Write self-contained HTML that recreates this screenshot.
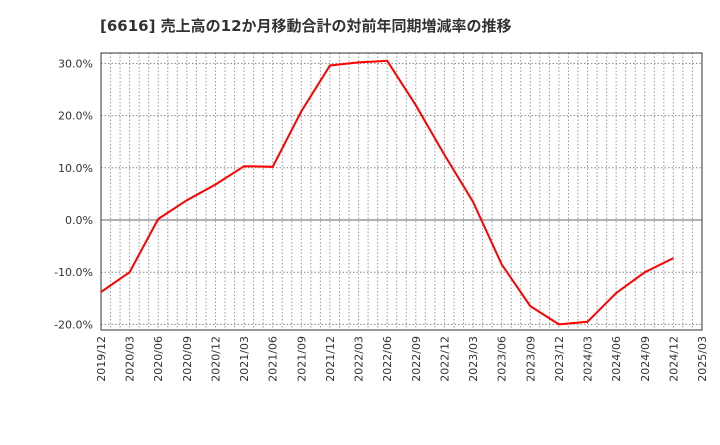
<!DOCTYPE html>
<html><head><meta charset="utf-8"><style>
body{margin:0;background:#fff;}
svg text{font-family:"DejaVu Sans","Noto Sans CJK JP",sans-serif;}
</style></head><body>
<svg id="chart" width="720" height="440" xmlns="http://www.w3.org/2000/svg">
<text x="100" y="31" font-size="15" font-weight="bold" fill="#333">[6616]  売上高の12か月移動合計の対前年同期増減率の推移</text>
<g id="grid"></g>
<g id="axes"></g>
<path id="line" fill="none" stroke="#ff0000" stroke-width="2"/>
</svg>
<script>
const categories=["2019/12","2020/03","2020/06","2020/09","2020/12","2021/03","2021/06","2021/09","2021/12","2022/03","2022/06","2022/09","2022/12","2023/03","2023/06","2023/09","2023/12","2024/03","2024/06","2024/09","2024/12","2025/03"];
const values=[-13.8,-10,0.2,3.8,6.8,10.3,10.2,20.8,29.6,30.2,30.5,22,12.5,3.5,-8.5,-16.5,-20,-19.5,-14,-10,-7.3];
const yTicks=[30,20,10,0,-10,-20];
const yLabels=["30.0%","20.0%","10.0%","0.0%","-10.0%","-20.0%"];
const L=101,R=702,T=53,B=330;
const x=i=>L+(R-L)*i/21;
const y=v=>220-v*5.22;
const ns="http://www.w3.org/2000/svg";
const grid=document.getElementById('grid'),axes=document.getElementById('axes');
function mk(tag,attrs,parent){const e=document.createElementNS(ns,tag);for(const k in attrs)e.setAttribute(k,attrs[k]);parent.appendChild(e);return e;}
for(let m=1;m<63;m++){const xx=L+(R-L)*m/63;
const g=mk('line',{x1:xx,x2:xx,y1:T,y2:B,stroke:'#999','stroke-dasharray':'1.5,2','stroke-width':1},grid);

}
yTicks.forEach((v,i)=>{const yy=y(v);
const g=mk('line',{x1:L,x2:R,y1:yy,y2:yy,stroke:v===0?'#666':'#888','stroke-dasharray':v===0?'none':'1.5,2','stroke-width':1},grid);


const t=mk('text',{x:L-8,y:yy+4,'text-anchor':'end','font-size':11,fill:'#333'},axes);t.textContent=yLabels[i];

});
const fr=mk('rect',{x:L,y:T,width:R-L,height:B-T,fill:'none',stroke:'#333','stroke-width':1},axes);


categories.forEach((c,i)=>{const xx=x(i);
const t=mk('text',{x:0,y:0,'text-anchor':'end','font-size':11,fill:'#333',transform:`translate(${xx+4},336) rotate(-90)`},axes);t.textContent=c;

});
document.getElementById('line').setAttribute('d',values.map((v,i)=>(i?'L':'M')+x(i).toFixed(1)+','+y(v).toFixed(1)).join(''));
</script>
</body></html>
